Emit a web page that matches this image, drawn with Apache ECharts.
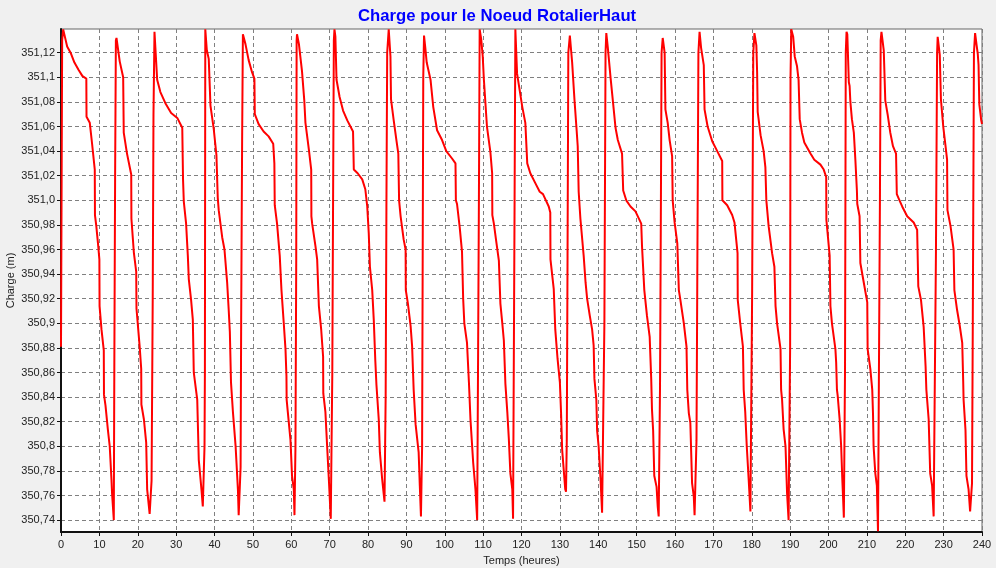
<!DOCTYPE html>
<html>
<head>
<meta charset="utf-8">
<script src="https://cdn.jsdelivr.net/npm/echarts@6/dist/echarts.min.js"></script>
<style>
html,body{margin:0;padding:0;background:#f0f0f0;}
#chart{width:996px;height:568px;}
</style>
</head>
<body>
<div id="chart"></div>
<script>
const titleText = 'Charge pour le Noeud RotalierHaut';
const xAxisName = 'Temps (heures)';
const yAxisName = 'Charge (m)';

const yTickValues = [350.74,350.76,350.78,350.80,350.82,350.84,350.86,350.88,350.90,350.92,350.94,350.96,350.98,351.00,351.02,351.04,351.06,351.08,351.10,351.12];
const yTickLabels = ['350,74','350,76','350,78','350,8','350,82','350,84','350,86','350,88','350,9','350,92','350,94','350,96','350,98','351,0','351,02','351,04','351,06','351,08','351,1','351,12'];
const xTickValues = [0,10,20,30,40,50,60,70,80,90,100,110,120,130,140,150,160,170,180,190,200,210,220,230,240];
const yRange = [350.7303, 351.1393];

const hours = [
0,0.3,0.57,1.6,2.5,3.5,4.6,5.6,6.6,6.65,7.5,8.1,8.8,8.85,9.2,9.7,10.0,10.05,10.55,11.15,11.2,11.6,12.2,12.7,13.15,13.3,13.76,13.9,14.1,14.3,14.46,
14.8,15.3,16.2,16.35,17.2,18.3,18.35,19.0,19.6,19.67,20.5,20.9,20.95,21.6,22.2,22.45,23.1,23.4,23.6,23.9,24.1,24.36,
24.7,25.06,25.9,27.2,28.7,30.3,31.6,31.8,32.0,32.6,33.05,33.3,33.9,34.35,34.6,35.5,35.9,36.6,36.95,37.2,37.4,37.5,37.6,
38.0,38.5,38.95,39.8,40.5,40.85,41.1,42.0,42.6,43.3,43.7,44.0,44.3,44.8,45.5,46.1,46.3,46.5,46.8,46.95,47.2,47.4,47.6,
48.07,48.9,49.8,50.4,50.5,51.5,52.8,54.1,55.3,55.6,55.7,56.3,57.0,57.45,58.05,58.5,58.75,58.8,59.1,59.8,60.2,60.66,60.84,61.0,61.1,61.3,61.4,61.5,
62.0,62.8,63.4,63.7,64.6,65.2,65.25,65.45,66.3,66.75,67.2,67.8,68.3,68.35,68.9,69.35,69.8,70.3,70.6,70.7,70.9,71.1,71.26,
71.5,71.8,72.6,73.5,74.6,76.1,76.3,77.3,78.5,79.3,79.8,80.2,80.5,81.1,81.5,81.9,82.2,82.8,83.1,83.7,84.3,84.5,84.6,84.8,85.0,85.4,
85.85,86.0,86.7,87.4,87.9,88.1,88.5,89.3,89.8,89.85,90.4,91.1,91.5,91.9,92.4,93.2,93.5,93.8,94.0,94.1,94.4,94.6,
94.9,95.3,96.3,97.0,98.0,99.3,100.4,101.9,102.8,102.9,103.2,103.9,104.5,104.8,105.1,105.8,106.3,106.7,107.4,108.0,108.45,108.6,108.7,108.9,109.1,
109.5,109.9,110.2,111.0,111.9,112.35,112.4,112.8,113.4,114.1,114.5,115.0,115.4,115.8,116.3,116.7,117.1,117.6,117.8,118.0,118.2,118.4,
118.85,119.5,120.2,121.0,121.5,122.3,123.6,124.75,125.6,127.1,127.5,127.55,128.4,128.8,129.4,130.0,130.3,130.6,131.0,131.4,131.6,131.8,132.0,132.2,132.6,
133.2,133.8,134.3,134.65,134.9,135.35,136.2,136.7,137.1,137.8,138.4,138.8,139.0,139.5,139.7,140.1,140.6,141.0,141.3,141.6,141.9,142.1,
142.5,143.2,143.9,144.5,145.1,146.2,146.5,147.3,148.4,149.7,151.2,151.4,152.0,152.7,153.4,153.8,154.0,154.3,154.6,155.2,155.5,155.75,156.0,156.1,156.3,156.5,156.8,
157.3,157.5,158.1,158.6,159.25,159.4,159.9,160.6,161.0,161.4,162.3,163.0,163.2,163.6,164.0,164.45,164.9,165.1,165.4,165.6,165.8,166.1,166.4,
166.8,167.5,167.7,168.5,169.7,171.0,172.3,172.35,173.6,174.9,175.5,176.3,176.35,177.0,177.7,177.9,178.3,178.7,179.2,179.65,179.9,180.1,180.4,180.7,
181.2,181.4,181.55,182.3,183.1,183.55,183.8,184.4,185.3,185.9,186.2,186.6,187.5,187.65,187.9,188.3,188.8,189.2,189.6,189.8,190.0,190.1,190.3,
190.8,191.2,191.8,192.2,192.5,193.1,193.7,195.3,196.3,197.9,198.75,199.4,199.45,199.6,200.3,200.5,200.9,201.8,202.0,202.2,202.4,202.9,203.3,203.6,203.8,204.0,204.2,204.3,204.5,204.7,
204.9,205.3,205.5,205.7,206.1,206.6,207.0,207.4,207.5,208.1,208.3,209.2,210.1,210.2,210.9,211.4,211.6,211.75,212.2,212.6,212.9,213.2,213.4,213.6,213.8,
214.4,214.8,215.4,216.1,216.8,217.6,217.8,218.5,219.2,220.5,222.2,223.1,223.4,224.1,224.8,225.3,225.5,225.7,226.1,226.5,227.0,227.4,227.7,228.0,228.3,228.45,
229.0,229.3,229.9,230.5,230.9,231.0,231.8,232.6,232.8,233.5,234.2,234.85,235.1,235.2,235.7,235.95,236.5,236.9,237.2,237.4,237.6,237.9,238.2,
238.6,238.9,239.1,239.3,239.8,240
];

const charge = [
350.881,351.13,351.139,351.125,351.12,351.112,351.106,351.101,351.099,351.068,351.063,351.046,351.025,350.988,350.979,350.963,350.952,350.914,350.895,350.878,350.842,350.833,350.814,350.80,350.773,350.762,350.74,350.869,351.018,351.13,351.132,
351.131,351.113,351.1,351.055,351.038,351.021,350.985,350.957,350.942,350.912,350.881,350.863,350.834,350.822,350.803,350.765,350.745,350.745,350.772,350.92,351.07,351.137,
351.136,351.098,351.088,351.079,351.071,351.067,351.059,351.017,350.999,350.981,350.955,350.936,350.919,350.903,350.86,350.838,350.789,350.765,350.751,350.751,350.80,350.862,351.139,
351.122,351.115,351.077,351.058,351.037,351.002,350.992,350.97,350.96,350.933,350.911,350.893,350.852,350.828,350.80,350.765,350.744,350.745,350.783,350.903,351.05,351.135,351.136,
351.127,351.114,351.104,351.099,351.07,351.062,351.056,351.052,351.046,351.03,350.996,350.981,350.955,350.927,350.9,350.879,350.857,350.838,350.828,350.805,350.776,350.765,350.744,350.744,350.80,350.953,351.13,351.135,
351.127,351.105,351.081,351.063,351.041,351.025,350.987,350.981,350.963,350.952,350.914,350.895,350.873,350.843,350.828,350.80,350.773,350.741,350.741,350.86,351.0,351.13,351.139,
351.133,351.098,351.084,351.073,351.065,351.056,351.025,351.022,351.017,351.009,350.995,350.973,350.946,350.927,350.903,350.87,350.85,350.822,350.795,350.773,350.755,350.755,350.84,350.994,351.12,351.139,
351.117,351.082,351.065,351.049,351.038,351.0,350.987,350.968,350.96,350.927,350.916,350.898,350.881,350.846,350.818,350.795,350.768,350.743,350.743,350.80,351.10,351.134,
351.125,351.112,351.098,351.076,351.057,351.049,351.04,351.034,351.03,351.0,350.997,350.978,350.958,350.92,350.9,350.884,350.852,350.822,350.787,350.765,350.74,350.74,350.88,351.0,351.139,
351.131,351.117,351.098,351.06,351.039,351.022,350.988,350.981,350.967,350.951,350.916,350.9,350.886,350.851,350.828,350.806,350.778,350.765,350.741,350.741,351.0,351.139,
351.103,351.09,351.076,351.063,351.03,351.022,351.014,351.007,351.005,350.995,350.99,350.952,350.928,350.895,350.871,350.852,350.828,350.797,350.781,350.765,350.763,350.805,350.955,351.12,351.134,
351.112,351.082,351.06,351.044,351.007,350.985,350.955,350.933,350.92,350.906,350.895,350.882,350.855,350.838,350.813,350.80,350.773,350.746,350.746,350.9,351.12,351.136,
351.124,351.1,351.078,351.059,351.049,351.038,351.008,351.0,350.995,350.991,350.981,350.963,350.927,350.906,350.889,350.855,350.83,350.813,350.776,350.767,350.751,350.743,350.743,350.85,350.98,351.12,351.132,
351.12,351.074,351.063,351.049,351.036,351.0,350.982,350.965,350.927,350.919,350.9,350.881,350.846,350.827,350.819,350.77,350.759,350.744,350.744,350.805,350.93,351.12,351.137,
351.124,351.11,351.074,351.06,351.048,351.04,351.032,351.0,350.996,350.988,350.982,350.957,350.919,350.9,350.881,350.846,350.828,350.80,350.773,350.747,350.747,350.925,351.12,351.136,
351.126,351.104,351.072,351.053,351.04,351.027,351.0,350.979,350.957,350.946,350.914,350.9,350.879,350.846,350.838,350.814,350.80,350.762,350.74,350.74,350.88,351.1,351.139,
351.133,351.117,351.109,351.098,351.066,351.055,351.047,351.038,351.033,351.029,351.025,351.019,350.984,350.979,350.955,350.914,350.9,350.879,350.868,350.846,350.841,350.822,350.80,350.773,350.758,350.742,350.742,350.86,351.12,351.137,
351.135,351.096,351.093,351.08,351.066,351.055,351.033,351.008,350.997,350.987,350.949,350.933,350.917,350.879,350.863,350.846,350.826,350.80,350.778,350.768,350.731,350.731,351.0,351.13,351.137,
351.122,351.081,351.07,351.055,351.044,351.038,351.005,351.0,350.995,350.987,350.982,350.976,350.93,350.919,350.897,350.865,350.846,350.838,350.822,350.778,350.768,350.743,350.743,350.958,351.12,351.133,
351.118,351.082,351.06,351.044,351.033,350.992,350.979,350.96,350.927,350.911,350.898,350.884,350.853,350.838,350.813,350.776,350.765,350.747,350.747,350.77,350.9,351.12,351.136,
351.126,351.119,351.11,351.078,351.065,351.062
];

const seriesData = hours.map((t, i) => [t, charge[i]]);

function yLabel(v) {
  for (let i = 0; i < yTickValues.length; i++) {
    if (Math.abs(yTickValues[i] - v) < 1e-6) return yTickLabels[i];
  }
  return '';
}

const FONT = '"Liberation Sans", Arial, sans-serif';
const chart = echarts.init(document.getElementById('chart'), null, {renderer: 'canvas'});
chart.setOption({
  animation: false,
  backgroundColor: '#f0f0f0',
  title: {
    text: titleText,
    left: 353,
    top: 3,
    textStyle: {color: '#0000ff', fontSize: 16.7, fontWeight: 'bold', fontFamily: FONT}
  },
  grid: {
    left: 61, right: 14, top: 29, bottom: 36,
    containLabel: false,
    outerBoundsMode: 'none',
    show: true, backgroundColor: '#ffffff', borderColor: '#666666', borderWidth: 1
  },
  xAxis: {
    type: 'value',
    min: xTickValues[0], max: xTickValues[xTickValues.length - 1], interval: 10,
    name: xAxisName, nameLocation: 'middle', nameGap: 23, nameMoveOverlap: false,
    nameTextStyle: {color: '#222', fontSize: 11, fontFamily: FONT},
    axisLine: {show: true, onZero: false, lineStyle: {color: '#111', width: 2}},
    axisTick: {show: true, length: 4, lineStyle: {color: '#111'}},
    axisLabel: {color: '#222', fontSize: 11, fontFamily: FONT, margin: 7},
    splitLine: {show: true, lineStyle: {type: [4, 3], color: '#808080', width: 1}}
  },
  yAxis: {
    type: 'value',
    min: yRange[0], max: yRange[1],
    name: yAxisName, nameLocation: 'middle', nameGap: 45, nameRotate: 90, nameMoveOverlap: false,
    nameTextStyle: {color: '#222', fontSize: 11, fontFamily: FONT},
    axisLine: {show: true, onZero: false, lineStyle: {color: '#111', width: 2}},
    axisTick: {show: true, length: 4, customValues: yTickValues, lineStyle: {color: '#111'}},
    axisLabel: {customValues: yTickValues, formatter: yLabel, color: '#222', fontSize: 11, fontFamily: FONT, margin: 6},
    splitLine: {show: true, lineStyle: {type: [4, 3], color: '#808080', width: 1}}
  },
  series: [{
    type: 'line',
    data: seriesData,
    showSymbol: false,
    symbol: 'none',
    lineStyle: {color: '#ff0000', width: 2},
    clip: true
  }]
});
</script>
</body>
</html>
